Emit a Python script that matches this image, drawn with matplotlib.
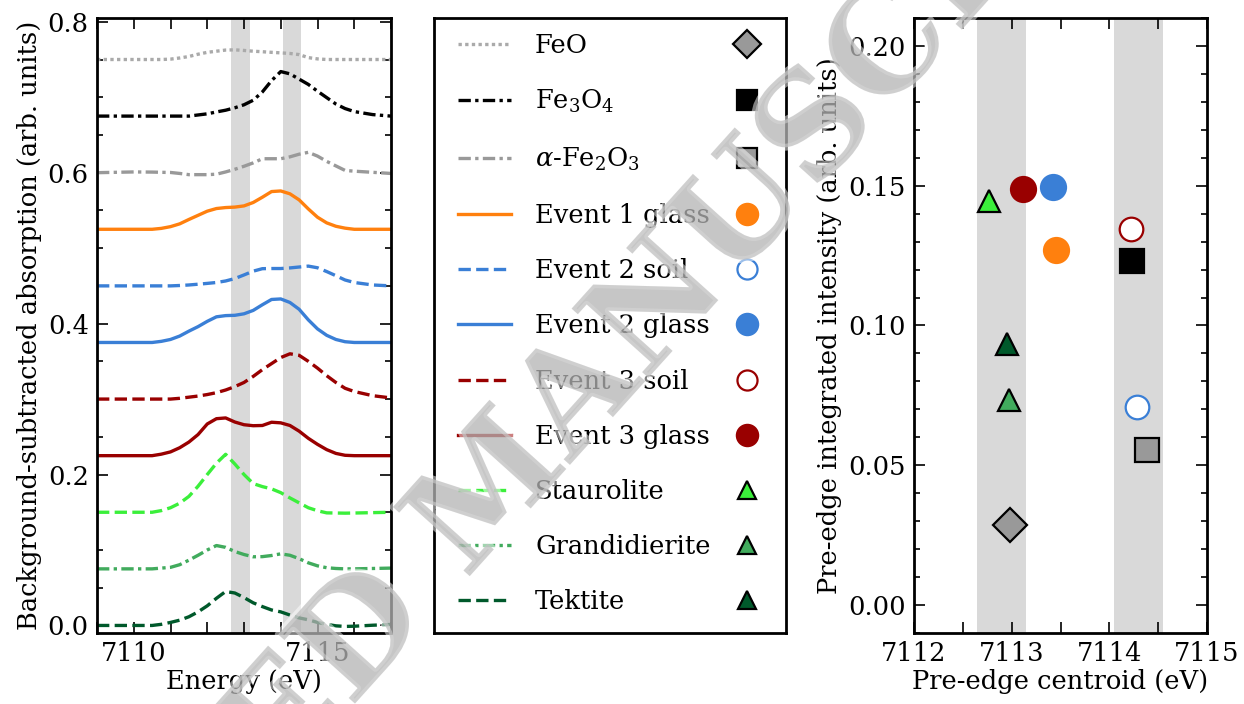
import matplotlib
matplotlib.use("Agg")
import matplotlib.pyplot as plt
import matplotlib.patheffects as pe
from matplotlib.ticker import MultipleLocator, FuncFormatter
import numpy as np

plt.rcParams["font.family"] = ["DejaVu Serif"]
plt.rcParams["mathtext.fontset"] = "dejavuserif"

# ---- Fe K pre-edge spectra (background subtracted) ----
energy = [7109.0, 7109.5, 7110.0, 7110.5, 7110.75, 7111.0, 7111.25, 7111.5,
          7111.75, 7112.0, 7112.25, 7112.5, 7112.75, 7113.0, 7113.25, 7113.5,
          7113.75, 7114.0, 7114.25, 7114.5, 7114.75, 7115.0, 7115.25, 7115.5,
          7115.75, 7116.0, 7116.5, 7117.0]

feo = [0, 0, 0, 0, 0, 0.0005, 0.002, 0.004, 0.007, 0.0095, 0.011, 0.0125,
       0.0128, 0.012, 0.011, 0.0103, 0.0095, 0.0088, 0.008, 0.0065, 0.0025,
       0.0008, 0, 0, 0, 0, 0, 0]
fe3o4 = [0, 0, 0, 0, 0, 0, 0, 0, 0.0015, 0.003, 0.0055, 0.0078, 0.011, 0.015,
         0.021, 0.032, 0.047, 0.059, 0.056, 0.049, 0.042, 0.033, 0.0245, 0.016,
         0.010, 0.006, 0.002, 0]
fe2o3 = [0, 0.0005, 0.001, 0.0008, 0.0005, 0.0003, -0.001, -0.0026, -0.0026,
         -0.0026, -0.002, 0.001, 0.0045, 0.0085, 0.013, 0.0185, 0.0185, 0.0185,
         0.021, 0.0245, 0.027, 0.022, 0.015, 0.009, 0.003, 0.002, 0.0005, -0.001]
e1_glass = [0, 0, 0, 0, 0.0012, 0.0035, 0.0072, 0.013, 0.0185, 0.024, 0.0275,
            0.0288, 0.0294, 0.031, 0.0355, 0.0425, 0.050, 0.0508, 0.047, 0.039,
            0.027, 0.016, 0.0085, 0.004, 0.0015, 0, 0, 0]
e2_soil = [0, 0, 0, 0, 0, 0, 0.0005, 0.0012, 0.0022, 0.0033, 0.0045, 0.0065,
           0.0097, 0.0145, 0.0195, 0.0228, 0.023, 0.023, 0.0238, 0.025, 0.0262,
           0.024, 0.019, 0.0135, 0.0078, 0.0045, 0.0012, 0]
e2_glass = [0, 0, 0, 0, 0.0015, 0.004, 0.0085, 0.015, 0.021, 0.028, 0.034,
            0.0356, 0.036, 0.038, 0.0425, 0.050, 0.057, 0.0577, 0.053, 0.044,
            0.030, 0.018, 0.0095, 0.004, 0.001, 0, 0, 0]
e3_soil = [0, 0, 0, 0, 0, 0, 0.001, 0.0025, 0.004, 0.006, 0.0085, 0.012,
           0.0165, 0.022, 0.030, 0.039, 0.047, 0.055, 0.060, 0.058, 0.050,
           0.041, 0.031, 0.022, 0.0143, 0.010, 0.0045, 0.0015]
e3_glass = [0, 0, 0, 0, 0.002, 0.005, 0.0105, 0.018, 0.028, 0.042, 0.049,
            0.050, 0.0446, 0.041, 0.0397, 0.040, 0.0443, 0.0435, 0.040, 0.0325,
            0.023, 0.015, 0.008, 0.003, 0.0005, 0, 0, 0]
staurolite = [0, 0, 0, 0, 0.0022, 0.006, 0.012, 0.021, 0.0345, 0.050, 0.065,
              0.0768, 0.064, 0.050, 0.038, 0.034, 0.031, 0.026, 0.019, 0.0125,
              0.006, 0.002, -0.0008, -0.001, -0.0012, -0.001, -0.0005, 0]
grandidierite = [0, 0, 0, 0, 0.001, 0.002, 0.0055, 0.0115, 0.018, 0.025,
                 0.0309, 0.0285, 0.023, 0.019, 0.016, 0.0162, 0.0177, 0.0199,
                 0.018, 0.0135, 0.008, 0.004, 0.0015, 0.0005, 0, 0, 0.0005, 0.001]
tektite = [0, 0, 0, 0, 0.0015, 0.004, 0.007, 0.0115, 0.018, 0.026, 0.036,
           0.045, 0.043, 0.037, 0.030, 0.025, 0.0205, 0.018, 0.0138, 0.010,
           0.0075, 0.004, 0.0015, -0.0005, -0.0013, -0.001, 0.0003, 0.0013]

labels = ["FeO", r"Fe$_3$O$_4$", r"$\alpha$-Fe$_2$O$_3$", "Event 1 glass",
          "Event 2 soil", "Event 2 glass", "Event 3 soil", "Event 3 glass",
          "Staurolite", "Grandidierite", "Tektite"]
spectra = [feo, fe3o4, fe2o3, e1_glass, e2_soil, e2_glass, e3_soil, e3_glass,
           staurolite, grandidierite, tektite]
offsets = [0.75, 0.675, 0.60, 0.525, 0.45, 0.375, 0.30, 0.225, 0.15, 0.075, 0.0]

# ---- pre-edge centroid / integrated intensity ----
centroid = [7112.98, 7114.23, 7114.39, 7113.45, 7114.28, 7113.42, 7114.22,
            7113.12, 7112.77, 7112.97, 7112.95]
intensity = [0.0286, 0.1229, 0.0556, 0.1269, 0.0707, 0.1495, 0.1344,
             0.1488, 0.1445, 0.0734, 0.0934]

# Fe2+ and Fe3+ reference centroid regions
bands = [(7112.65, 7113.15), (7114.05, 7114.55)]

# ---- styles ----
ORANGE = "#ff800e"
BLUE = "#3a7fd6"
DRED = "#990000"
dashdot = (0, (3.7, 1.3, 1.0, 1.3))
line_styles = [
    dict(color="#aaaaaa", ls=(0, (1.0, 1.0))),
    dict(color="black", ls=dashdot),
    dict(color="#999999", ls=dashdot),
    dict(color=ORANGE, ls="-"),
    dict(color=BLUE, ls="--"),
    dict(color=BLUE, ls="-"),
    dict(color=DRED, ls="--"),
    dict(color=DRED, ls="-"),
    dict(color="#3bef3b", ls="--"),
    dict(color="#41ab5d", ls=dashdot),
    dict(color="#00592b", ls="--"),
]
marker_styles = [
    dict(marker="D", mfc="#999999", mec="black", ms=17),
    dict(marker="s", mfc="black", mec="black", ms=17),
    dict(marker="s", mfc="#999999", mec="black", ms=17),
    dict(marker="o", mfc=ORANGE, mec=ORANGE, ms=18),
    dict(marker="o", mfc="white", mec=BLUE, ms=17),
    dict(marker="o", mfc=BLUE, mec=BLUE, ms=18),
    dict(marker="o", mfc="white", mec=DRED, ms=17),
    dict(marker="o", mfc=DRED, mec=DRED, ms=18),
    dict(marker="^", mfc="#3bef3b", mec="black", ms=16),
    dict(marker="^", mfc="#41ab5d", mec="black", ms=16),
    dict(marker="^", mfc="#00592b", mec="black", ms=16),
]

FS = 18.5
W, H = 1244, 704
fig = plt.figure(figsize=(W / 100, H / 100), dpi=100)


def px_axes(x0, y0, x1, y1):
    return fig.add_axes([x0 / W, 1 - y1 / H, (x1 - x0) / W, (y1 - y0) / H])


def style_axes(ax):
    for s in ax.spines.values():
        s.set_linewidth(2.0)
    ax.tick_params(which="both", direction="in", top=True, right=True,
                   labelsize=FS, width=1.2)
    ax.tick_params(which="major", length=8, pad=6)
    ax.tick_params(which="minor", length=4.5)


# ---- left: stacked spectra ----
ax1 = px_axes(97, 18, 391, 633)
style_axes(ax1)
for lo, hi in bands:
    ax1.axvspan(lo, hi, color="#d9d9d9", lw=0, zorder=0)
line_handles = []
for spec, off, st, lab in zip(spectra, offsets, line_styles, labels):
    ln, = ax1.plot(energy, np.asarray(spec) + off, lw=2.4, label=lab,
                   color=st["color"], linestyle=st["ls"], zorder=2)
    line_handles.append(ln)
ax1.set_xlim(7109, 7117)
ax1.set_ylim(-0.01, 0.805)
ax1.xaxis.set_major_locator(MultipleLocator(5))
ax1.xaxis.set_minor_locator(MultipleLocator(1))
ax1.yaxis.set_major_locator(MultipleLocator(0.2))
ax1.yaxis.set_minor_locator(MultipleLocator(0.05))
ax1.tick_params(axis="x", which="minor", length=8)
ax1.xaxis.set_major_formatter(FuncFormatter(lambda v, p: f"{v:.0f}"))
ax1.yaxis.set_major_formatter(FuncFormatter(lambda v, p: f"{v:.1f}"))
ax1.set_xlabel("Energy (eV)", fontsize=FS, labelpad=2)
ax1.set_ylabel("Background-subtracted absorption (arb. units)", fontsize=FS,
               labelpad=4)

# ---- right: centroid vs. integrated intensity ----
ax3 = px_axes(914, 18, 1207, 633)
style_axes(ax3)
for lo, hi in bands:
    ax3.axvspan(lo, hi, color="#d9d9d9", lw=0, zorder=0)
marker_handles = []
for cx, iy, ms_, lab in zip(centroid, intensity, marker_styles, labels):
    mk, = ax3.plot([cx], [iy], ls="none", marker=ms_["marker"],
                   markerfacecolor=ms_["mfc"], markeredgecolor=ms_["mec"],
                   markersize=ms_["ms"], markeredgewidth=1.6, label=lab,
                   zorder=3)
    marker_handles.append(mk)
ax3.set_xlim(7112, 7115)
ax3.set_ylim(-0.01, 0.21)
ax3.xaxis.set_major_locator(MultipleLocator(1))
ax3.xaxis.set_minor_locator(MultipleLocator(0.5))
ax3.yaxis.set_major_locator(MultipleLocator(0.05))
ax3.yaxis.set_minor_locator(MultipleLocator(0.01))
ax3.tick_params(axis="x", which="minor", length=8)
ax3.xaxis.set_major_formatter(FuncFormatter(lambda v, p: f"{v:.0f}"))
ax3.yaxis.set_major_formatter(FuncFormatter(lambda v, p: f"{v:.2f}"))
ax3.set_xlabel("Pre-edge centroid (eV)", fontsize=FS, labelpad=2)
ax3.set_ylabel("Pre-edge integrated intensity (arb. units)", fontsize=FS,
               labelpad=4)

# ---- middle: shared key ----
ax2 = px_axes(434, 18, 786, 633)
ax2.set_xticks([])
ax2.set_yticks([])
for s in ax2.spines.values():
    s.set_linewidth(2.0)

leg_kw = dict(fontsize=FS, frameon=False, borderpad=0, borderaxespad=0,
              labelspacing=1.175, loc="upper left",
              bbox_transform=fig.transFigure)
top_y = 1 - 33 / H
leg1 = fig.legend(line_handles, labels, handlelength=2.05, handletextpad=0.95,
                  bbox_to_anchor=(458 / W, top_y), **leg_kw)
leg2 = fig.legend(marker_handles, labels, handlelength=1.1, handletextpad=0.5,
                  markerscale=0.85, bbox_to_anchor=(733 / W, top_y), **leg_kw)
for t in leg2.get_texts():
    t.set_alpha(0)

# ---- watermark ----
fig.text(502 / W, 1 - 482 / H, "ACCEPTED MANUSCRIPT", rotation=48,
         ha="center", va="center", fontsize=102, fontweight="bold",
         color="#b4b4b4", alpha=0.5, zorder=20,
         path_effects=[pe.withStroke(linewidth=5, foreground="white")])

fig.savefig("out.png", dpi=100)
